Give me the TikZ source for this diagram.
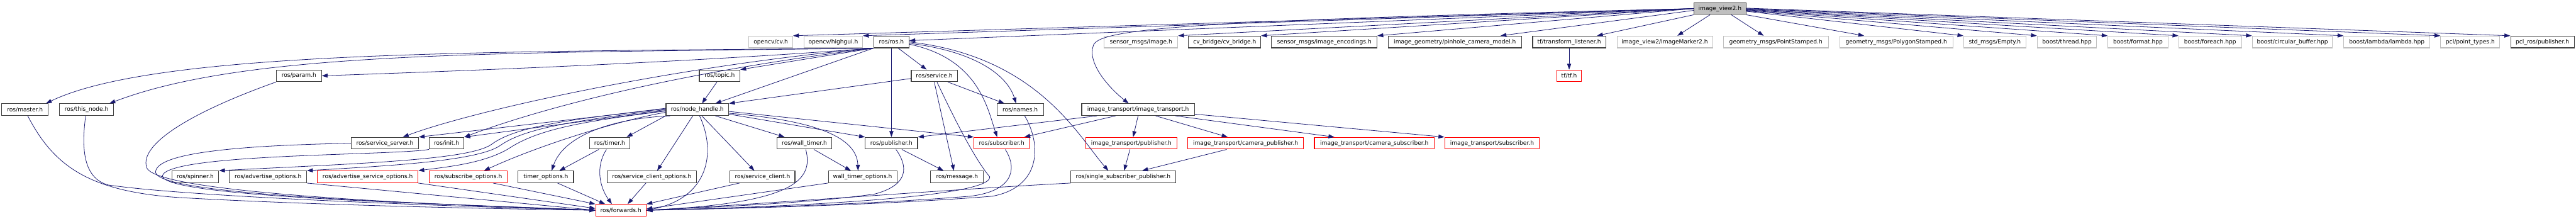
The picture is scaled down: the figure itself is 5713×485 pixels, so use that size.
\documentclass[tikz,border=0pt]{standalone}
\usepackage{fontspec}
\setmainfont{DejaVu Sans}
\usepackage{xcolor}
\usepackage{tikz}
\usetikzlibrary{arrows.meta}

\begin{document}
\begin{tikzpicture}[
    x=1pt, y=-1pt,
    dep/.style={-{Stealth[inset=0pt, length=13pt, width=9pt]},
      line width=1.1pt, color=depline},
  ]
  % Colour definitions
  \definecolor{depline}{HTML}{191970}   % midnight blue connectors
  \definecolor{docbdr}{HTML}{404040}    % documented file
  \definecolor{extbdr}{HTML}{BFBFBF}    % file without docs
  \definecolor{truncbdr}{HTML}{FF0000}  % truncated subgraph

  \tikzstyle{docfile} = [draw=docbdr, fill=white, line width=1.5pt,
    minimum height=26pt, inner sep=0pt, font=\fontsize{12.7}{15}\selectfont]
  \tikzstyle{extfile} = [docfile, draw=extbdr]
  \tikzstyle{truncfile} = [docfile, draw=truncbdr]
  \tikzstyle{rootfile} = [docfile, fill=extbdr]

  \useasboundingbox (0,0) rectangle (5713,485);

  % Row 0: the header itself
  \node[rootfile, minimum width=115pt] (root) at (3814.5,19) {image\_view2.h};

  % Row 1: direct includes
  \node[extfile, minimum width=97pt] (cv) at (1709.5,93) {opencv/cv.h};
  \node[extfile, minimum width=130pt] (highgui) at (1848,93) {opencv/highgui.h};
  \node[docfile, minimum width=78pt] (ros) at (1977,93) {ros/ros.h};
  \node[extfile, minimum width=163pt] (img) at (2530.5,93) {sensor\_msgs/Image.h};
  \node[docfile, minimum width=160pt] (bridge) at (2716,93) {cv\_bridge/cv\_bridge.h};
  \node[docfile, minimum width=234pt] (enc) at (2937,93) {sensor\_msgs/image\_encodings.h};
  \node[docfile, minimum width=295pt] (pinhole) at (3226.5,93) {image\_geometry/pinhole\_camera\_model.h};
  \node[docfile, minimum width=162pt] (tfl) at (3480,93) {tf/transform\_listener.h};
  \node[extfile, minimum width=212pt] (marker) at (3692,93) {image\_view2/ImageMarker2.h};
  \node[extfile, minimum width=233pt] (point) at (3938.5,93) {geometry\_msgs/PointStamped.h};
  \node[extfile, minimum width=251pt] (poly) at (4205.5,93) {geometry\_msgs/PolygonStamped.h};
  \node[extfile, minimum width=138pt] (empty) at (4424,93) {std\_msgs/Empty.h};
  \node[extfile, minimum width=132pt] (bthread) at (4584,93) {boost/thread.hpp};
  \node[extfile, minimum width=133pt] (bformat) at (4741.5,93) {boost/format.hpp};
  \node[extfile, minimum width=139pt] (bforeach) at (4901.5,93) {boost/foreach.hpp};
  \node[extfile, minimum width=178pt] (cbuf) at (5084,93) {boost/circular\_buffer.hpp};
  \node[extfile, minimum width=191pt] (blambda) at (5293.5,93) {boost/lambda/lambda.hpp};
  \node[extfile, minimum width=131pt] (pcl) at (5478.5,93) {pcl/point\_types.h};
  \node[docfile, minimum width=141pt] (pclpub) at (5638.5,93) {pcl\_ros/publisher.h};

  % Row 2
  \node[docfile, minimum width=100pt] (param) at (663,168) {ros/param.h};
  \node[docfile, minimum width=90pt] (topic) at (1596,168) {ros/topic.h};
  \node[docfile, minimum width=102pt] (service) at (2072,168) {ros/service.h};
  \node[truncfile, minimum width=54pt] (tf) at (3480,168) {tf/tf.h};

  % Row 3
  \node[docfile, minimum width=103pt] (master) at (55.5,243) {ros/master.h};
  \node[docfile, minimum width=120pt] (thisnode) at (192,243) {ros/this\_node.h};
  \node[docfile, minimum width=139pt] (nh) at (1546.5,243) {ros/node\_handle.h};
  \node[docfile, minimum width=103pt] (names) at (2262.5,243) {ros/names.h};
  \node[docfile, minimum width=250pt] (it) at (2524,243) {image\_transport/image\_transport.h};

  % Row 4
  \node[docfile, minimum width=149pt] (srvserver) at (853.5,317.5) {ros/service\_server.h};
  \node[docfile, minimum width=77pt] (init) at (990.5,317.5) {ros/init.h};
  \node[docfile, minimum width=90pt] (timer) at (1352,317.5) {ros/timer.h};
  \node[docfile, minimum width=122pt] (walltimer) at (1784,317.5) {ros/wall\_timer.h};
  \node[docfile, minimum width=116pt] (pub) at (1977,317.5) {ros/publisher.h};
  \node[truncfile, minimum width=123pt] (sub) at (2221.5,317.5) {ros/subscriber.h};
  \node[truncfile, minimum width=202pt] (itpub) at (2509,317.5) {image\_transport/publisher.h};
  \node[truncfile, minimum width=257pt] (itcampub) at (2762.5,317.5) {image\_transport/camera\_publisher.h};
  \node[truncfile, minimum width=266pt] (itcamsub) at (3048,317.5) {image\_transport/camera\_subscriber.h};
  \node[truncfile, minimum width=210pt] (itsub) at (3309,317.5) {image\_transport/subscriber.h};

  % Row 5
  \node[docfile, minimum width=104pt] (spinner) at (433,392) {ros/spinner.h};
  \node[docfile, minimum width=171pt] (advopt) at (594.5,392) {ros/advertise\_options.h};
  \node[truncfile, minimum width=223pt] (advsrvopt) at (815.5,392) {ros/advertise\_service\_options.h};
  \node[truncfile, minimum width=173pt] (subopt) at (1038.5,392) {ros/subscribe\_options.h};
  \node[docfile, minimum width=123pt] (timeropt) at (1210.5,392) {timer\_options.h};
  \node[docfile, minimum width=199pt] (clientopt) at (1445.5,392) {ros/service\_client\_options.h};
  \node[docfile, minimum width=144pt] (client) at (1691,392) {ros/service\_client.h};
  \node[docfile, minimum width=152pt] (walltimeropt) at (1913,392) {wall\_timer\_options.h};
  \node[docfile, minimum width=117pt] (msg) at (2122.5,392) {ros/message.h};
  \node[docfile, minimum width=232pt] (ssp) at (2491,392) {ros/single\_subscriber\_publisher.h};

  % Row 6
  \node[truncfile, minimum width=112pt] (fwd) at (1377,466) {ros/forwards.h};

  % From image_view2.h
  \draw[dep] (root.west) -- (cv.north east);
  \draw[dep] (root.west) -- (highgui.north east);
  \draw[dep] (root.west) -- ([yshift=3pt]ros.east);
  \draw[dep] (root.west) -- (img.north east);
  \draw[dep] (root.west) -- (bridge.north east);
  \draw[dep] (root.west) -- (enc.north east);
  \draw[dep] ([yshift=-4pt]root.west) -- ([xshift=-47pt]pinhole.north east);
  \draw[dep] (root.south west) -- ([xshift=-20pt]tfl.north east);
  \draw[dep] ([xshift=-22pt]root.south) -- ([xshift=28pt]marker.north);
  \draw[dep] ([xshift=25pt]root.south) -- ([xshift=-27pt]point.north);
  \draw[dep] (root.south east) -- ([xshift=55pt]poly.north west);
  \draw[dep] ([yshift=-6pt]root.east) -- (empty.north west);
  \draw[dep] ([yshift=-5pt]root.east) -- (bthread.north west);
  \draw[dep] ([yshift=-4pt]root.east) -- (bformat.north west);
  \draw[dep] ([yshift=-3pt]root.east) -- (bforeach.north west);
  \draw[dep] ([yshift=-2pt]root.east) -- (cbuf.north west);
  \draw[dep] ([yshift=-1pt]root.east) -- (blambda.north west);
  \draw[dep] (root.east) -- (pcl.north west);
  \draw[dep] ([yshift=1pt]root.east) -- (pclpub.north west);
  \draw[dep] (root.west) .. controls (2700,45) and (2440,60) .. (2425,100)
    .. controls (2410,140) and (2460,195) .. ([xshift=-21pt]it.north);

  % From ros/ros.h
  \draw[dep] (ros.south west) .. controls (1100,115) and (350,110) .. ([xshift=-6pt]master.north east);
  \draw[dep] (ros.south west) .. controls (1100,118) and (550,112) .. ([xshift=-10pt]thisnode.north east);
  \draw[dep] (ros.south west) .. controls (1500,140) and (1000,158) .. (param.east);
  \draw[dep] (ros.south west) -- (topic.north east);
  \draw[dep] (ros.south west) -- ([xshift=40pt]nh.north);
  \draw[dep] (ros.south west) .. controls (1500,160) and (1200,240) .. (init.north east);
  \draw[dep] (ros.south west) .. controls (1500,145) and (1050,245) .. ([xshift=40pt]srvserver.north);
  \draw[dep] ([xshift=15pt]ros.south) -- ([xshift=-17pt]service.north);
  \draw[dep] (ros.south) -- (pub.north);
  \draw[dep] ([yshift=-5pt]ros.east) .. controls (2170,130) and (2190,240) .. ([xshift=-10pt]sub.north);
  \draw[dep] ([yshift=-3pt]ros.east) .. controls (2170,115) and (2235,170) .. ([xshift=-9pt]names.north);
  \draw[dep] (ros.east) .. controls (2300,125) and (2390,300) .. ([xshift=-33pt]ssp.north);

  % From ros/service.h
  \draw[dep] ([yshift=-6pt]service.west) -- (nh.north east);
  \draw[dep] ([xshift=30pt]service.south) -- ([xshift=-35pt]names.north);
  \draw[dep] (service.south) -- ([xshift=-7pt]msg.north);
  \draw[dep] ([xshift=6pt]service.south) .. controls (2115,260) and (2160,350) .. (2195,392)
    .. controls (2200,440) and (1700,460) .. (fwd.east);

  % From ros/topic.h
  \draw[dep] ([xshift=-6pt]topic.south) -- ([xshift=-60pt]nh.north east);

  % From ros/node_handle.h
  \draw[dep] ([yshift=3pt]nh.west) .. controls (1300,262) and (1150,275) .. (1090,320)
    .. controls (1040,355) and (800,362) .. (spinner.north east);
  \draw[dep] (nh.west) .. controls (1300,265) and (1170,280) .. (1110,322)
    .. controls (1060,358) and (850,368) .. (advopt.north east);
  \draw[dep] ([yshift=-3pt]nh.west) .. controls (1300,268) and (1200,285) .. (1135,325)
    .. controls (1080,362) and (990,370) .. (advsrvopt.north east);
  \draw[dep] ([yshift=-6pt]nh.west) .. controls (1380,265) and (1200,320) .. ([xshift=35pt]subopt.north);
  \draw[dep] ([yshift=-2pt]nh.west) -- (init.north east);
  \draw[dep] ([yshift=2pt]nh.west) -- (srvserver.north east);
  \draw[dep] (nh.south west) -- ([xshift=-8pt]timer.north east);
  \draw[dep] ([xshift=10pt]nh.south west) .. controls (1360,262) and (1250,300) .. ([xshift=13pt]timeropt.north);
  \draw[dep] ([xshift=-10pt]nh.south) -- ([xshift=12pt]clientopt.north);
  \draw[dep] ([xshift=10pt]nh.south) -- ([xshift=-18pt]client.north);
  \draw[dep] ([xshift=40pt]nh.south) -- ([xshift=-44pt]walltimer.north);
  \draw[dep] ([yshift=-8pt]nh.east) .. controls (1780,265) and (1900,295) .. ([xshift=-10pt]walltimeropt.north);
  \draw[dep] ([yshift=-10pt]nh.east) -- (pub.north west);
  \draw[dep] ([yshift=-4pt]nh.east) -- (sub.north west);
  \draw[dep] ([xshift=5pt]nh.south) .. controls (1590,340) and (1570,440) .. (fwd.east);

  % From image_transport/image_transport.h
  \draw[dep] ([xshift=-91pt]it.south) -- (pub.north east);
  \draw[dep] ([xshift=-50pt]it.south) -- ([xshift=-12pt]sub.north east);
  \draw[dep] (it.south) -- ([xshift=4pt]itpub.north);
  \draw[dep] ([xshift=39pt]it.south) -- ([xshift=-40pt]itcampub.north);
  \draw[dep] ([xshift=83pt]it.south) -- ([xshift=45pt]itcamsub.north west);
  \draw[dep] ([yshift=-10pt]it.east) -- (itsub.north west);
  \draw[dep] ([xshift=-3pt]itpub.south) -- ([xshift=2pt]ssp.north);
  \draw[dep] ([xshift=-42pt]itcampub.south) -- ([xshift=42pt]ssp.north);

  % tf
  \draw[dep] (tfl) -- (tf);

  % Timers and publisher
  \draw[dep] ([xshift=21pt]walltimer.south) -- ([xshift=-26pt]walltimeropt.north);
  \draw[dep] ([xshift=-24pt]timer.south) -- ([xshift=30pt]timeropt.north);
  \draw[dep] ([xshift=23pt]pub.south) -- ([xshift=-30pt]msg.north);

  % Into ros/forwards.h
  \draw[dep] ([xshift=6pt]master.south) .. controls (120,370) and (200,425) .. (400,438)
    .. controls (700,455) and (1100,463) .. (fwd.west);
  \draw[dep] ([xshift=-2pt]thisnode.south) .. controls (180,330) and (185,395) .. (240,410)
    .. controls (450,440) and (1100,460) .. (fwd.west);
  \draw[dep] (param.south west) .. controls (420,250) and (310,320) .. (325,370)
    .. controls (335,430) and (1000,455) .. (fwd.west);
  \draw[dep] (srvserver.west) .. controls (560,322) and (345,335) .. (345,382)
    .. controls (352,436) and (1000,452) .. (fwd.west);
  \draw[dep] (init.south west) .. controls (870,345) and (370,340) .. (360,390)
    .. controls (365,438) and (1000,452) .. (fwd.west);
  \draw[dep] (advopt.south east) -- (fwd.west);
  \draw[dep] (advsrvopt.south east) -- ([yshift=4pt]fwd.west);
  \draw[dep] ([xshift=55pt]subopt.south) -- (fwd.north west);
  \draw[dep] ([xshift=26pt]timeropt.south) -- ([xshift=-35pt]fwd.north);
  \draw[dep] ([xshift=-7pt]timer.south) .. controls (1320,370) and (1330,415) .. ([xshift=-20pt]fwd.north);
  \draw[dep] ([xshift=-13pt]clientopt.south) -- ([xshift=15pt]fwd.north);
  \draw[dep] ([xshift=-51pt]client.south) -- (fwd.north east);
  \draw[dep] (walltimeropt.south west) -- ([yshift=3pt]fwd.east);
  \draw[dep] ([xshift=3pt]walltimer.south) .. controls (1805,400) and (1760,450) .. (fwd.east);
  \draw[dep] ([xshift=10pt]pub.south) .. controls (2015,370) and (2015,410) .. (1940,430)
    .. controls (1800,450) and (1600,458) .. (fwd.east);
  \draw[dep] ([xshift=8pt]sub.south) .. controls (2260,380) and (2240,425) .. (2150,435)
    .. controls (1900,455) and (1600,462) .. (fwd.east);
  \draw[dep] ([xshift=10pt]names.south) .. controls (2310,320) and (2310,415) .. (2200,435)
    .. controls (1950,455) and (1600,463) .. (fwd.east);
  \draw[dep] (ssp.south west) .. controls (2100,420) and (1700,452) .. (fwd.east);
\end{tikzpicture}
\end{document}
